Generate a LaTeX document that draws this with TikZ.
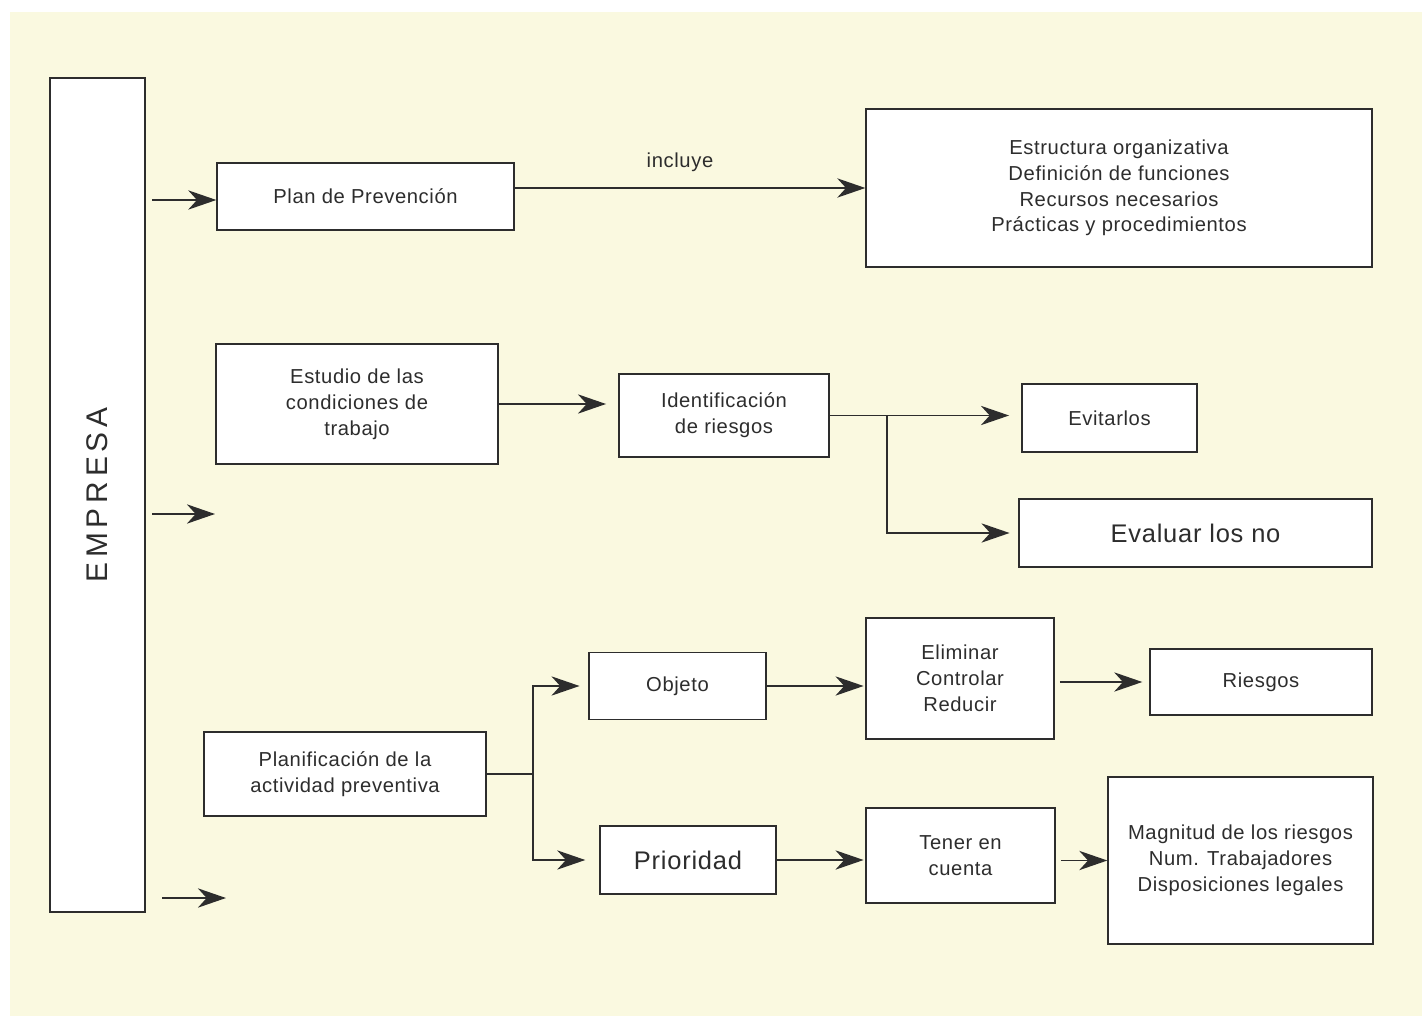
\documentclass[tikz,border=0pt]{standalone}
\usepackage{fontspec}
\setmainfont{Liberation Sans}[LetterSpace=3]
\newfontfamily\spacedfont[LetterSpace=16]{Liberation Sans}
\usetikzlibrary{arrows.meta}

\definecolor{cream}{RGB}{250,249,224}
\definecolor{ink}{RGB}{45,45,45}

\tikzstyle{box} = [rectangle, draw=ink, line width=0.8pt, fill=white, text=ink, align=center, inner sep=0pt, font=\fontsize{11.5}{14.7}\selectfont]
\tikzstyle{big} = [font=\fontsize{14.5}{17}\selectfont]
\tikzstyle{arrow} = [line width=0.8pt, draw=ink, -{Stealth[length=16pt,width=11pt,inset=5pt]}]
\tikzstyle{line} = [line width=0.8pt, draw=ink]

\begin{document}
\begin{tikzpicture}[x=0.02cm, y=-0.02cm]
  \useasboundingbox (0,0) rectangle (1422,1016);
  \fill[cream] (10,12) rectangle (1422,1016);

  % left column
  \node (Empresa) [box, rotate=90, minimum width=16.68cm, minimum height=1.9cm, font=\spacedfont\fontsize{17}{20}\selectfont] at (97.5,495) {EMPRESA};
  \coordinate (e1) at (152,200);
  \coordinate (e2) at (152,514);
  \coordinate (e2 end) at (215,514);
  \coordinate (e3) at (162,898);
  \coordinate (e3 end) at (226,898);

  % first row
  \node (Plan de Prevencion) [box, minimum width=5.94cm, minimum height=1.34cm] at (365.5,196.5) {Plan de Prevención};
  \node (Estructura) [box, minimum width=10.12cm, minimum height=3.16cm] at (1119,188) {Estructura organizativa\\Definición de funciones\\Recursos necesarios\\Prácticas y procedimientos};
  \node (incluye) [text=ink, font=\fontsize{11.5}{13}\selectfont] at (680,162) {incluye};

  % second row
  \node (Estudio) [box, minimum width=5.64cm, minimum height=2.4cm] at (357,404) {Estudio de las\\condiciones de\\trabajo};
  \node (Identificacion) [box, minimum width=4.2cm, minimum height=1.66cm] at (724,415.5) {Identificación\\de riesgos};
  \node (Evitarlos) [box, minimum width=3.5cm, minimum height=1.36cm] at (1109.5,418) {Evitarlos};
  \node (Evaluar) [box, big, minimum width=7.06cm, minimum height=1.36cm] at (1195.5,533) {Evaluar los no};
  \coordinate (b1) at (887,415.5);

  % third row
  \node (Planificacion) [box, minimum width=5.64cm, minimum height=1.68cm] at (345,774) {Planificación de la\\actividad preventiva};
  \node (Objeto) [box, minimum width=3.54cm, minimum height=1.34cm] at (677.5,686) {Objeto};
  \node (Prioridad) [box, big, minimum width=3.52cm, minimum height=1.36cm] at (688,860) {Prioridad};
  \node (Eliminar) [box, minimum width=3.76cm, minimum height=2.42cm] at (960,678.5) {Eliminar\\Controlar\\Reducir};
  \node (Riesgos) [box, minimum width=4.44cm, minimum height=1.32cm] at (1261,682) {Riesgos};
  \node (Tener) [box, minimum width=3.78cm, minimum height=1.9cm] at (960.5,855.5) {Tener en\\cuenta};
  \node (Magnitud) [box, minimum width=5.3cm, minimum height=3.34cm] at (1240.5,860.5) {Magnitud de los riesgos\\Num. Trabajadores\\Disposiciones legales};
  \coordinate (b2) at (533,774);

  % connectors
  \draw [arrow] (e1) -- (e1 -| Plan de Prevencion.west);
  \draw [arrow] (e2) -- (e2 end);
  \draw [arrow] (e3) -- (e3 end);
  \draw [arrow] (Estructura.west -| Plan de Prevencion.east) -- (Estructura.west);

  \draw [arrow, shorten >=7pt] (Estudio.east) -- (Estudio.east -| Identificacion.west);
  \draw [arrow, shorten >=7pt] (Identificacion.east) -- (Identificacion.east -| Evitarlos.west);
  \draw [arrow, shorten >=5pt] (b1) |- (Evaluar.west);

  \draw [line] (Planificacion.east) -- (b2);
  \draw [arrow, shorten >=5pt] (b2) |- (Objeto.west);
  \draw [arrow, shorten >=8pt] (b2) |- (Prioridad.west);
  \draw [arrow, shorten >=1pt] (Objeto.east) -- (Objeto.east -| Eliminar.west);
  \draw [arrow, shorten <=3pt, shorten >=4pt] (Riesgos.west -| Eliminar.east) -- (Riesgos.west);
  \draw [arrow, shorten >=1pt] (Prioridad.east) -- (Prioridad.east -| Tener.west);
  \draw [arrow, shorten <=3pt] (Magnitud.west -| Tener.east) -- (Magnitud.west);
\end{tikzpicture}
\end{document}
